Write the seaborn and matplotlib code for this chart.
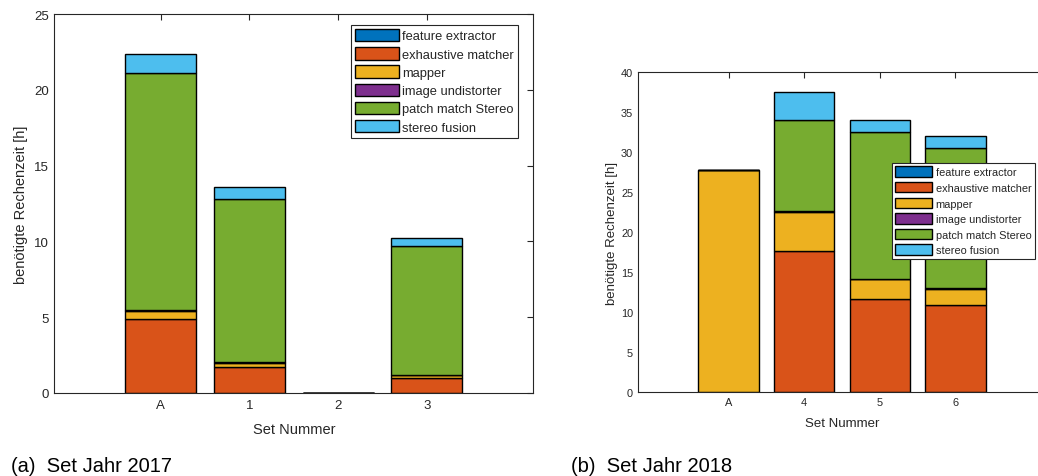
import numpy as np
import pandas as pd
import matplotlib
matplotlib.use("Agg")
import matplotlib.pyplot as plt
from matplotlib.patches import Patch
import seaborn as sns

sns.set_style("white")
plt.rcParams['font.family'] = ['Liberation Sans', 'DejaVu Sans']

# ---- data ----
components = ["feature extractor", "exhaustive matcher", "mapper",
              "image undistorter", "patch match Stereo", "stereo fusion"]
colors = ["#0072BD", "#D95319", "#EDB120", "#7E2F8E", "#77AC30", "#4DBEEE"]

sets_2017 = ["A", "1", "2", "3"]
fe_2017 = [0.03, 0.02, 0.0, 0.02]
em_2017 = [4.88, 1.72, 0.0, 0.98]
ma_2017 = [0.52, 0.24, 0.0, 0.16]
iu_2017 = [0.07, 0.08, 0.0, 0.06]
pm_2017 = [15.60, 10.74, 0.0, 8.48]
sf_2017 = [1.25, 0.77, 0.0, 0.54]

sets_2018 = ["A", "4", "5", "6"]
fe_2018 = [0.02, 0.03, 0.03, 0.03]
em_2018 = [0.0, 17.60, 11.60, 10.80]
ma_2018 = [27.73, 4.90, 2.45, 2.05]
iu_2018 = [0.0, 0.10, 0.08, 0.08]
pm_2018 = [0.0, 11.35, 18.32, 17.54]
sf_2018 = [0.0, 3.50, 1.50, 1.45]

W, H = 1038, 477
fig = plt.figure(figsize=(W / 100, H / 100), dpi=100)

axc = "#262626"

def stacked(ax, cats, layers, tick_fs, label_fs, ymax, ystep, pad):
    bottom = np.zeros(len(cats))
    for vals, col in zip(layers, colors):
        vals = np.asarray(vals, dtype=float)
        sns.barplot(x=cats, y=vals, bottom=bottom, color=col, ax=ax,
                    width=0.8, edgecolor="black", linewidth=1.0,
                    saturation=1, order=cats)
        bottom = bottom + vals
    ax.set_xlim(-1.2, len(cats) - 1 + 1.2)
    ax.set_ylim(0, ymax)
    ax.set_yticks(np.arange(0, ymax + 0.1, ystep))
    ax.tick_params(axis="both", direction="in", length=4, width=0.8,
                   top=True, right=True, labelsize=tick_fs, colors=axc,
                   labelcolor=axc, pad=pad)
    for s in ax.spines.values():
        s.set_visible(True)
        s.set_color(axc)
        s.set_linewidth(0.8)
    ax.set_xlabel("Set Nummer", fontsize=label_fs, color=axc)
    ax.set_ylabel("benötigte Rechenzeit [h]", fontsize=label_fs, color=axc)

def px_axes(x0, y0, x1, y1):
    return fig.add_axes([x0 / W, 1 - y1 / H, (x1 - x0) / W, (y1 - y0) / H])

ax1 = px_axes(54.3, 15, 533.3, 394)
stacked(ax1, sets_2017,
        [fe_2017, em_2017, ma_2017, iu_2017, pm_2017, sf_2017],
        tick_fs=9.5, label_fs=10.5, ymax=25, ystep=5, pad=4)
ax1.xaxis.labelpad = 8

ax2 = px_axes(638, 73, 1046, 393)
stacked(ax2, sets_2018,
        [fe_2018, em_2018, ma_2018, iu_2018, pm_2018, sf_2018],
        tick_fs=7.9, label_fs=9.5, ymax=40, ystep=5, pad=3.5)
ax2.xaxis.labelpad = 7
ax2.yaxis.labelpad = 2

handles = [Patch(facecolor=c, edgecolor="black", linewidth=1.0) for c in colors]

leg1 = fig.legend(handles, components, loc="upper left",
                  bbox_to_anchor=(351 / W, 1 - 26 / H),
                  bbox_transform=fig.transFigure, fontsize=9.3,
                  frameon=True, fancybox=False, framealpha=1,
                  edgecolor=axc, borderpad=0.3, handlelength=3.4,
                  handleheight=1.1, labelspacing=0.36, handletextpad=0.25,
                  borderaxespad=0)
leg1.get_frame().set_linewidth(0.8)

leg2 = fig.legend(handles, components, loc="upper left",
                  bbox_to_anchor=(891.7 / W, 1 - 164 / H),
                  bbox_transform=fig.transFigure, fontsize=7.9,
                  frameon=True, fancybox=False, framealpha=1,
                  edgecolor=axc, borderpad=0.3, handlelength=3.4,
                  handleheight=1.1, labelspacing=0.42, handletextpad=0.3,
                  borderaxespad=0)
leg2.get_frame().set_linewidth(0.8)

fig.text(11 / W, 1 - 472.5 / H, "(a)  Set Jahr 2017", fontsize=14.5,
         color="black", ha="left", va="baseline")
fig.text(571 / W, 1 - 472.5 / H, "(b)  Set Jahr 2018", fontsize=14.5,
         color="black", ha="left", va="baseline")

fig.savefig("out.png", dpi=100)
